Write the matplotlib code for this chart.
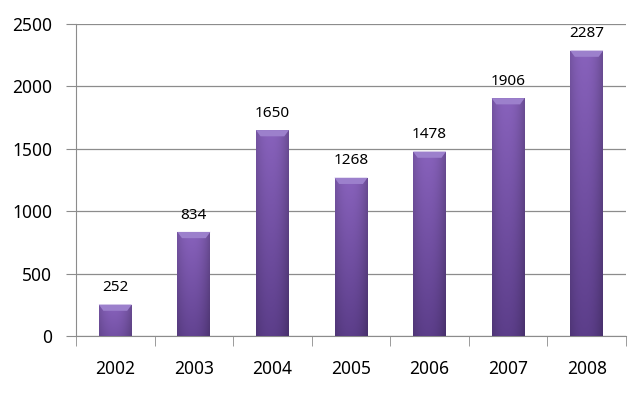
import matplotlib.pyplot as plt
import numpy as np

years = ["2002", "2003", "2004", "2005", "2006", "2007", "2008"]
counts = [252, 834, 1650, 1268, 1478, 1906, 2287]

plt.rcParams['font.family'] = ['Noto Sans', 'DejaVu Sans']

fig = plt.figure(figsize=(6.42, 4.04), dpi=100)
ax = fig.add_axes([76 / 642, (404 - 336) / 404, 550 / 642, 312 / 404])

x = np.arange(len(years))
bars = ax.bar(x, counts, width=0.42, color="#7352a3", zorder=2)

# shading: lighter at top, darker to the bottom and at the side edges
top = np.array([136, 98, 188]) / 255
bottom = np.array([92, 62, 138]) / 255
u = np.linspace(0, 1, 60)
side = 1 - 0.22 * np.abs(u - 0.45) ** 2.2 / 0.55 ** 2.2
for b in bars:
    x0, w, h = b.get_x(), b.get_width(), b.get_height()
    t = np.linspace(0, 1, 100).reshape(-1, 1, 1)
    base = top + (bottom - top) * t * min(1, h / 1500 + 0.3)
    img = np.clip(base * side.reshape(1, -1, 1), 0, 1)
    im = ax.imshow(img, aspect="auto", extent=[x0, x0 + w, 0, h], zorder=3, origin="upper")
    im.set_clip_path(b)
    # light bevel on top
    ax.fill([x0, x0 + w, x0 + w * 0.86, x0 + w * 0.14], [h, h, h - 50, h - 50],
            color="#9c80cc", zorder=4, lw=0)
    ax.text(x0 + w / 2, h + 75, str(h), ha="center", va="bottom", fontsize=11)

ax.set_xlim(-0.5, len(years) - 0.5)
ax.set_ylim(0, 2500)
ax.set_yticks(range(0, 2501, 500))
ax.yaxis.grid(True, color="#8c8c8c", lw=0.9, zorder=0)
ax.set_axisbelow(True)

ax.set_xticks(x)
ax.set_xticklabels(years)
ax.set_xticks(np.arange(-0.5, len(years)), minor=True)
ax.tick_params(axis="x", which="major", length=0, pad=17, labelsize=12.5)
ax.tick_params(axis="x", which="minor", length=7, color="#8c8c8c")
ax.tick_params(axis="y", length=7, color="#8c8c8c", labelsize=12.5, pad=10)

for s in ["top", "right"]:
    ax.spines[s].set_visible(False)
for s in ["left", "bottom"]:
    ax.spines[s].set_color("#8c8c8c")

fig.savefig("out.png", dpi=100)
